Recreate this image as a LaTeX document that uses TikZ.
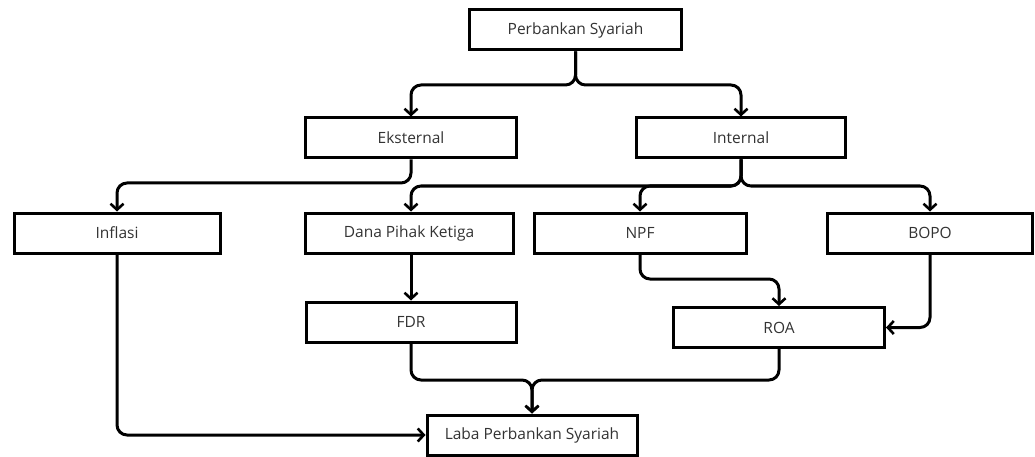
\documentclass[tikz,border=0pt]{standalone}
\usepackage{fontspec}
\setmainfont{Open Sans}
\usetikzlibrary{arrows.meta}
\definecolor{txt}{HTML}{333333}
\tikzset{
  box/.style={draw=black, line width=3pt, fill=white, inner sep=0pt,
    minimum width=#1, minimum height=40pt, font=\fontsize{15.5}{18}\selectfont, text=txt},
  box/.default=211pt,
  arr/.style={line width=3pt, rounded corners=10pt,
    -{Straight Barb[length=6pt,width=13pt,line width=2.6pt]}},
}
\begin{document}
\begin{tikzpicture}[x=1pt,y=-1pt]
\useasboundingbox (0,0) rectangle (1035,457);
\node[box=212pt] (ps) at (575.5,30) {Perbankan Syariah};
\node[box=211pt] (eks) at (411,138) {Eksternal};
\node[box=209pt] (int) at (741,138) {Internal};
\node[box=206pt] (inf) at (117,233) {Inflasi};
\node[box=208pt] (dpk) at (409,233) {Dana Pihak Ketiga};
\node[box=212pt] (npf) at (640,233) {NPF};
\node[box=205pt] (bopo) at (930,233) {BOPO};
\node[box=210pt] (fdr) at (411,322) {FDR};
\node[box=211pt] (roa) at (779,327.5) {ROA};
\node[box=210pt] (laba) at (532,435) {Laba Perbankan Syariah};
\coordinate (j1) at (575.5,85);
\coordinate (j2) at (411,183);
\coordinate (j3) at (741,186);
\coordinate (j4) at (640,279);
\coordinate (j5) at (532,380);
\draw[arr] (ps.south) -- (j1) -| (eks.north);
\draw[arr] (ps.south) -- (j1) -| (int.north);
\draw[arr] (eks.south) -- (j2) -| (inf.north);
\draw[arr] (int.south) -- (j3) -| (fdr.north |- dpk.north);
\draw[arr] (int.south) -- (j3) -| (npf.north);
\draw[arr] (int.south) -- (j3) -| (bopo.north);
\draw[arr] (fdr.north |- dpk.south) -- (fdr.north);
\draw[arr] (npf.south) -- (j4) -| (roa.north);
\draw[arr] (bopo.south) |- (roa.east);
\draw[arr] (fdr.south) |- (j5) -- (laba.north);
\draw[arr] (roa.south) |- (j5) -- (laba.north);
\draw[arr] (inf.south) |- (laba.west);
\end{tikzpicture}
\end{document}
